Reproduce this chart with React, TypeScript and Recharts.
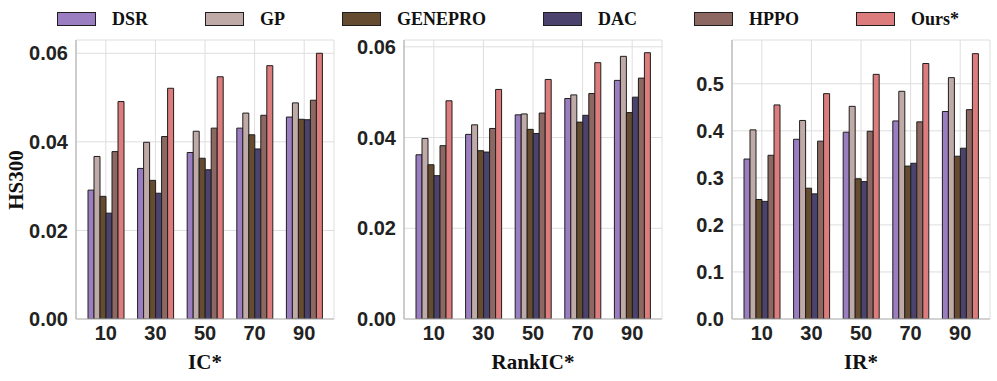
import React from 'react';
import { BarChart, Bar, XAxis, YAxis, CartesianGrid } from 'recharts';

const CATEGORIES = ['10', '30', '50', '70', '90'];
const SERIES_KEYS = ['DSR', 'GP', 'GENEPRO', 'DAC', 'HPPO', 'Ours'];
const SERIES_NAMES = ['DSR', 'GP', 'GENEPRO', 'DAC', 'HPPO', 'Ours*'];
const SERIES_COLORS = ['#9b7ec1', '#c0aaa7', '#654b2f', '#4c426e', '#8d6862', '#dc7c7c'];

// IC*
const IC_DSR = [0.0291, 0.034, 0.0376, 0.0431, 0.0456];
const IC_GP = [0.0367, 0.0399, 0.0424, 0.0465, 0.0488];
const IC_GENEPRO = [0.0277, 0.0313, 0.0363, 0.0416, 0.0451];
const IC_DAC = [0.0239, 0.0284, 0.0337, 0.0384, 0.045];
const IC_HPPO = [0.0378, 0.0412, 0.0431, 0.046, 0.0494];
const IC_OURS = [0.0491, 0.0521, 0.0547, 0.0572, 0.06];

// RankIC*
const RIC_DSR = [0.0362, 0.0407, 0.045, 0.0486, 0.0526];
const RIC_GP = [0.0398, 0.0428, 0.0452, 0.0494, 0.0579];
const RIC_GENEPRO = [0.034, 0.0371, 0.0418, 0.0434, 0.0455];
const RIC_DAC = [0.0316, 0.0368, 0.0409, 0.0449, 0.0489];
const RIC_HPPO = [0.0382, 0.042, 0.0454, 0.0497, 0.0531];
const RIC_OURS = [0.0481, 0.0506, 0.0528, 0.0565, 0.0587];

// IR*
const IR_DSR = [0.34, 0.382, 0.397, 0.421, 0.441];
const IR_GP = [0.402, 0.422, 0.452, 0.484, 0.513];
const IR_GENEPRO = [0.254, 0.278, 0.298, 0.325, 0.346];
const IR_DAC = [0.25, 0.266, 0.292, 0.331, 0.363];
const IR_HPPO = [0.348, 0.378, 0.399, 0.419, 0.445];
const IR_OURS = [0.455, 0.479, 0.52, 0.543, 0.564];

const IC_TICKS = [0, 0.02, 0.04, 0.06];
const RIC_TICKS = [0, 0.02, 0.04, 0.06];
const IR_TICKS = [0, 0.1, 0.2, 0.3, 0.4, 0.5];

function buildRows(cols: number[][]) {
  return CATEGORIES.map((c, i) => {
    const row: Record<string, any> = { cat: c };
    SERIES_KEYS.forEach((k, j) => {
      row[k] = cols[j][i];
    });
    return row;
  });
}

const IC_DATA = buildRows([IC_DSR, IC_GP, IC_GENEPRO, IC_DAC, IC_HPPO, IC_OURS]);
const RIC_DATA = buildRows([RIC_DSR, RIC_GP, RIC_GENEPRO, RIC_DAC, RIC_HPPO, RIC_OURS]);
const IR_DATA = buildRows([IR_DSR, IR_GP, IR_GENEPRO, IR_DAC, IR_HPPO, IR_OURS]);

const SANS = '"Liberation Sans", Arial, Helvetica, sans-serif';
const SERIF = '"Liberation Serif", "Times New Roman", serif';
const TICK_STYLE = { fontFamily: SANS, fontWeight: 700, fontSize: 20, fill: '#222' };

type PanelProps = {
  data: any[];
  domain: [number, number];
  ticks: number[];
  digits: number;
  left: number;
  width: number;
  marginLeft: number;
  marginRight: number;
};

function Panel({ data, domain, ticks, digits, left, width, marginLeft, marginRight }: PanelProps) {
  return (
    <div style={{ position: 'absolute', left, top: 0 }}>
      <BarChart
        width={width}
        height={381}
        data={data}
        margin={{ top: 40, right: marginRight, left: marginLeft, bottom: 0 }}
        barCategoryGap={7}
        barGap={0}
      >
        <CartesianGrid stroke="#dedede" strokeWidth={1} />
        <XAxis
          dataKey="cat"
          height={62}
          padding={{ left: 5, right: 5 }}
          tickLine={false}
          tickSize={0}
          tickMargin={7}
          axisLine={{ stroke: '#b5b5b5', strokeWidth: 1.2 }}
          tick={TICK_STYLE}
        />
        <YAxis
          width={60}
          type="number"
          domain={domain}
          ticks={ticks}
          allowDataOverflow
          tickLine={false}
          tickSize={0}
          tickMargin={8}
          axisLine={{ stroke: '#b5b5b5', strokeWidth: 1.2 }}
          tick={TICK_STYLE}
          tickFormatter={(v: number) => v.toFixed(digits)}
        />
        {SERIES_KEYS.map((k, i) => (
          <Bar
            key={k}
            dataKey={k}
            name={SERIES_NAMES[i]}
            fill={SERIES_COLORS[i]}
            stroke="#1e1e1e"
            strokeWidth={1}
            isAnimationActive={false}
          />
        ))}
      </BarChart>
    </div>
  );
}

const titleStyle: React.CSSProperties = {
  position: 'absolute',
  fontFamily: SERIF,
  fontWeight: 700,
  fontSize: 21,
  color: '#111',
  whiteSpace: 'nowrap',
  transform: 'translate(-50%, -50%)',
  lineHeight: 1,
};

export default function App() {
  return (
    <div style={{ position: 'absolute', left: 0, top: 0, width: 997, height: 381, background: '#fff', overflow: 'hidden' }}>
      {/* Legend */}
      <div
        style={{
          position: 'absolute',
          left: 57,
          top: 9,
          display: 'flex',
          alignItems: 'center',
          fontFamily: SERIF,
          fontWeight: 700,
          fontSize: 18,
          color: '#111',
          whiteSpace: 'nowrap',
        }}
      >
        {SERIES_NAMES.map((n, i) => (
          <div key={n} style={{ display: 'flex', alignItems: 'center', marginRight: i === SERIES_NAMES.length - 1 ? 0 : 57 }}>
            <div
              style={{
                width: 37,
                height: 12,
                background: SERIES_COLORS[i],
                border: '1px solid #1e1e1e',
                marginRight: 16,
              }}
            />
            <span style={{ lineHeight: '20px' }}>{n}</span>
          </div>
        ))}
      </div>

      <Panel data={IC_DATA} domain={[0, 0.063]} ticks={IC_TICKS} digits={2} left={0} width={340} marginLeft={16} marginRight={6} />
      <Panel data={RIC_DATA} domain={[0, 0.0615]} ticks={RIC_TICKS} digits={2} left={330} width={340} marginLeft={14} marginRight={8} />
      <Panel data={IR_DATA} domain={[0, 0.593]} ticks={IR_TICKS} digits={1} left={660} width={337} marginLeft={12} marginRight={7} />

      <div style={{ ...titleStyle, left: 16, top: 180, transform: 'translate(-50%, -50%) rotate(-90deg)' }}>HS300</div>
      <div style={{ ...titleStyle, left: 205, top: 362 }}>IC*</div>
      <div style={{ ...titleStyle, left: 533, top: 362 }}>RankIC*</div>
      <div style={{ ...titleStyle, left: 861, top: 362 }}>IR*</div>
    </div>
  );
}
